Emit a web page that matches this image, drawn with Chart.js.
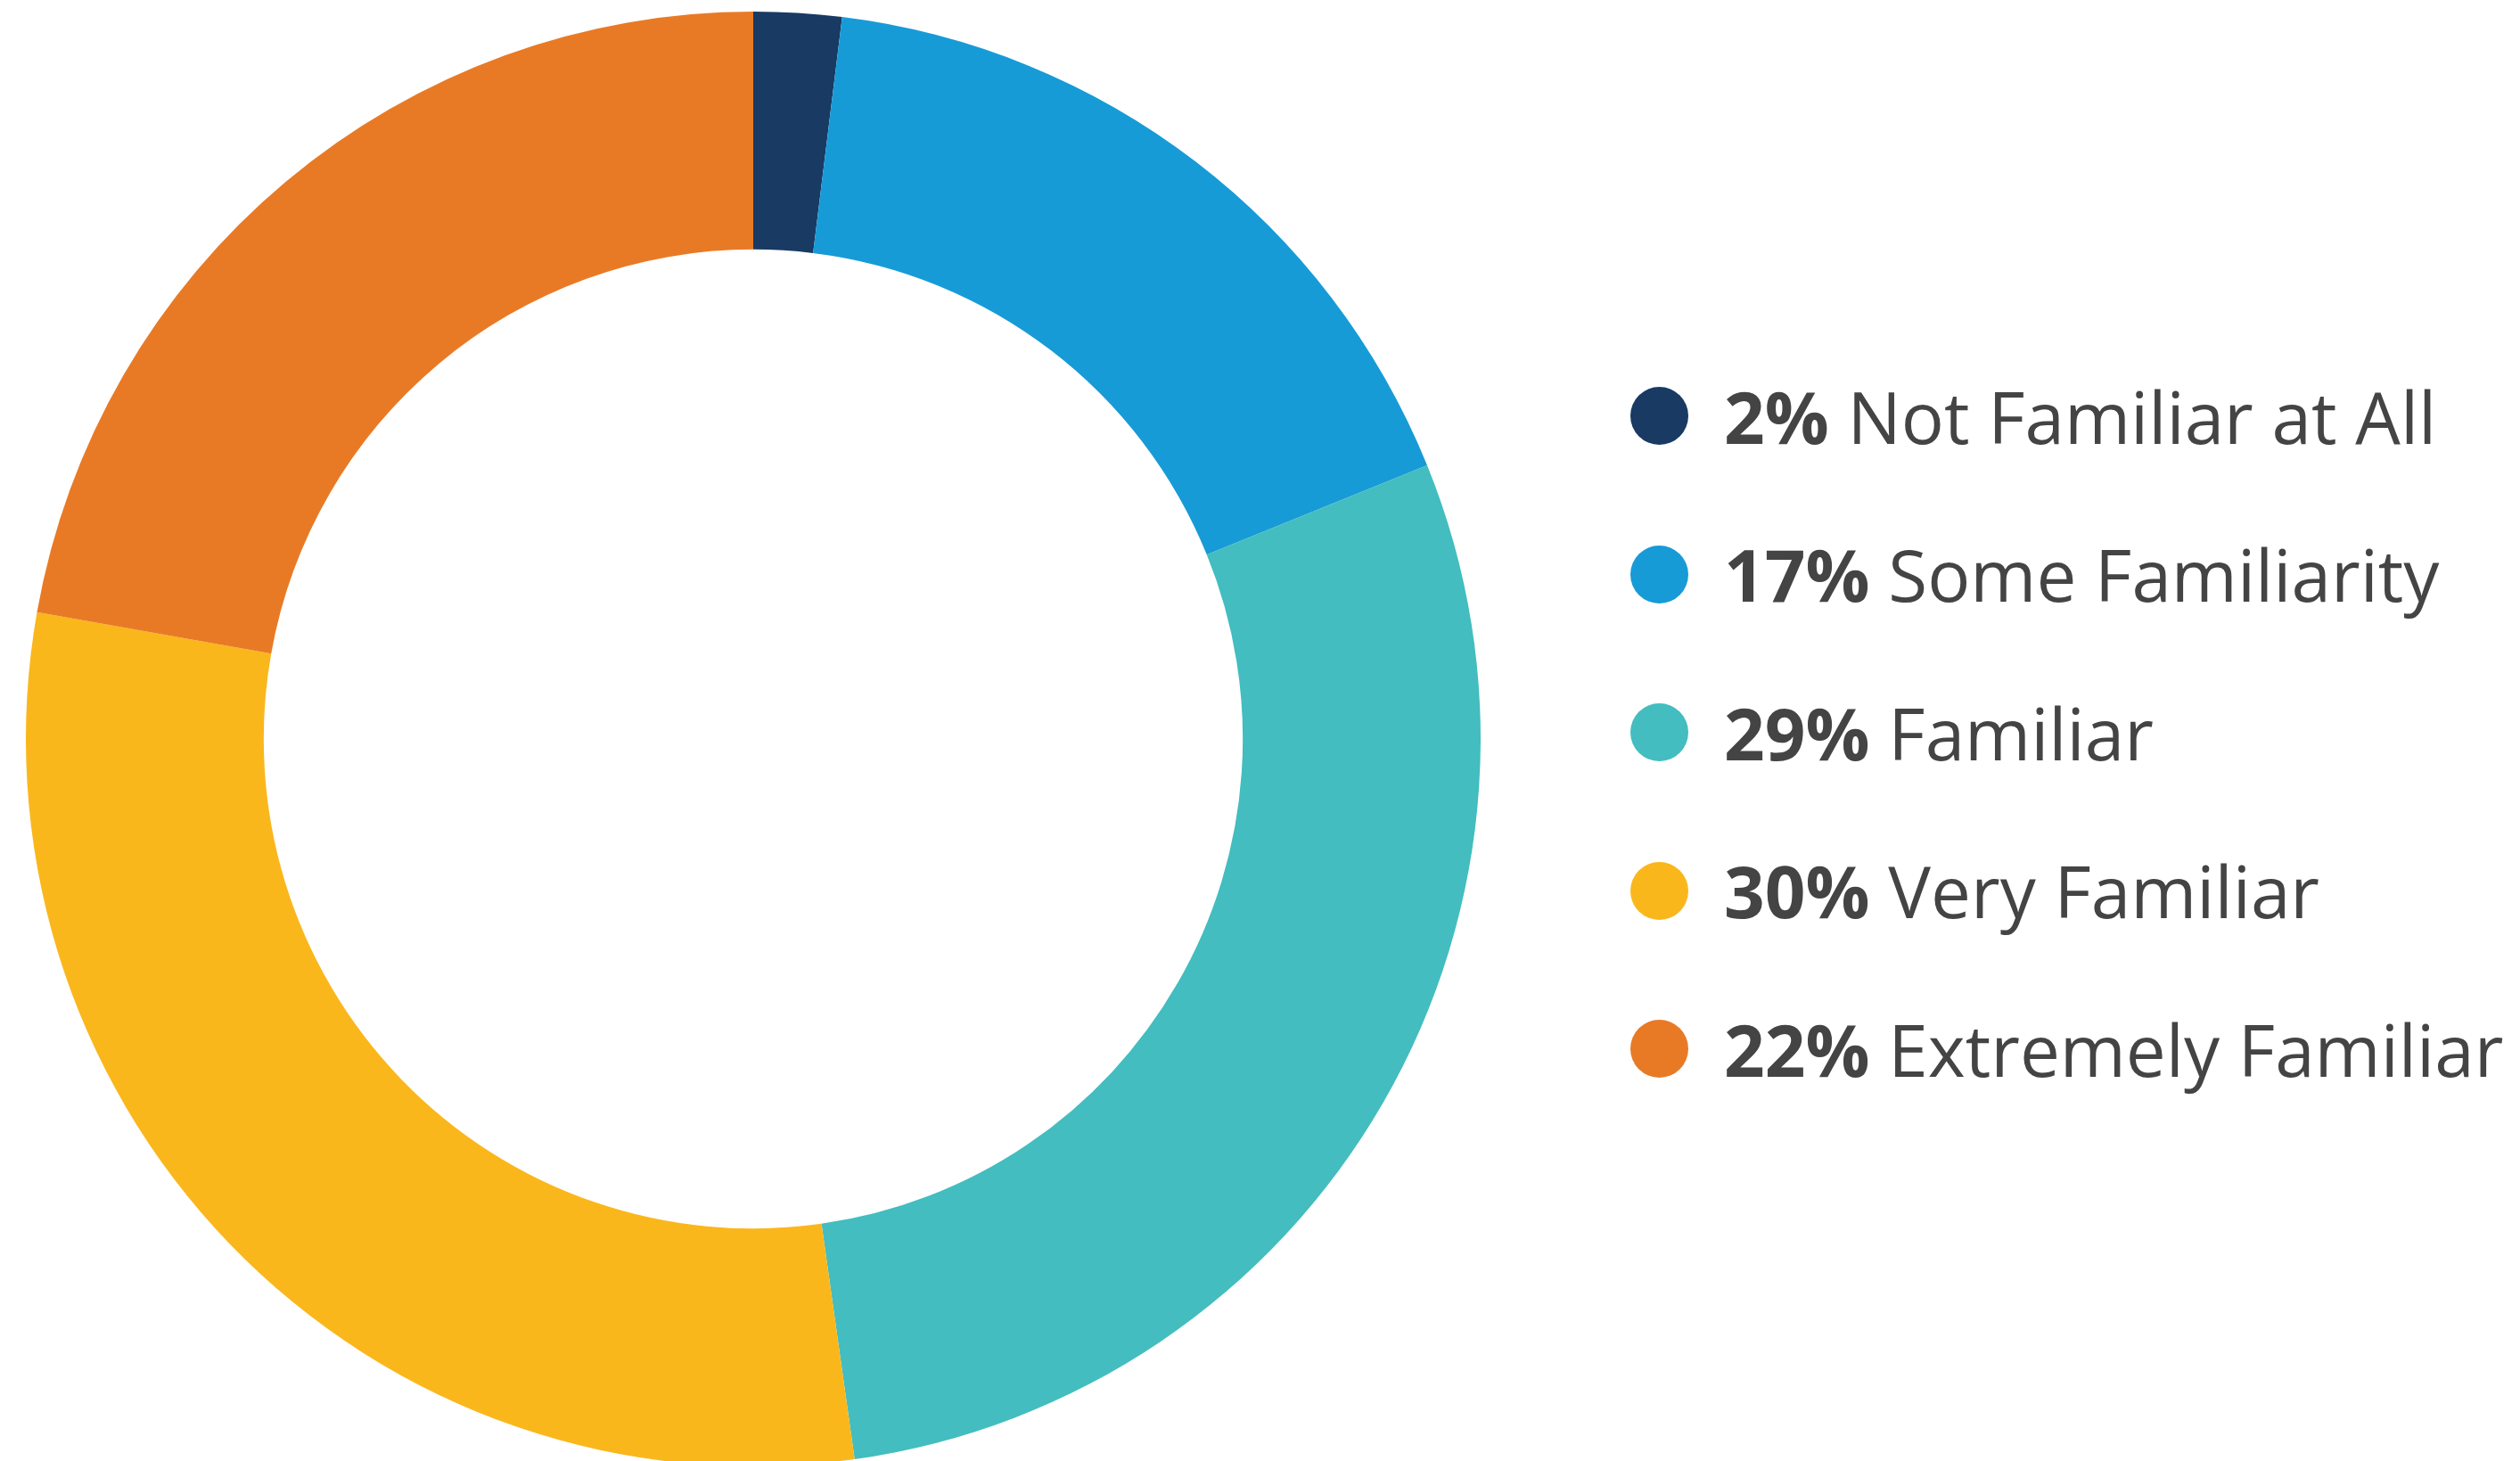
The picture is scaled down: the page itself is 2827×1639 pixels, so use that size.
<!DOCTYPE html>
<html>
<head>
<meta charset="utf-8">
<script src="https://cdn.jsdelivr.net/npm/chart.js@4/dist/chart.umd.min.js"></script>
<style>
    html, body { margin: 0; padding: 0; background: #fff; overflow: hidden; }
    body { width: 2827px; height: 1639px; position: relative; }
    #wrap { position: absolute; left: 29px; top: 13px; width: 1632px; height: 1632px; }
    #legend { position: absolute; left: 1829px; top: 378px; font-family: "Open Sans", sans-serif; color: #444444; }
    .row { display: flex; align-items: center; height: 177.5px; }
    .dot { width: 65px; height: 65px; border-radius: 50%; flex: none; }
    .txt { margin-left: 40px; font-size: 80px; line-height: 1; white-space: nowrap; }
    .txt b { font-weight: 700; }
</style>
</head>
<body>
<div id="wrap"><canvas id="Familiaridad"></canvas></div>
<div id="legend"></div>
<script>
var categorias = ['Not Familiar at All', 'Some Familiarity', 'Familiar', 'Very Familiar', 'Extremely Familiar'];
var valores = [1.95, 16.9, 28.9, 30.0, 22.2];
var colores = ['#183A63', '#179BD7', '#43BDBF', '#FAB71C', '#E97A25'];

// leyenda en html para poder poner el porcentaje en negrita
var legend = document.getElementById('legend');
categorias.forEach(function(cat, i) {
    var row = document.createElement('div');
    row.className = 'row';
    row.innerHTML = '<span class="dot" style="background:' + colores[i] + '"></span>' +
        '<span class="txt"><b>' + Math.round(valores[i]) + '%</b> ' + cat + '</span>';
    legend.appendChild(row);
});

var ctx = document.getElementById('Familiaridad');
var chart = new Chart(ctx, {
    type: 'doughnut',
    data: {
        labels: categorias,
        datasets: [{
            data: valores,
            backgroundColor: colores,
            borderWidth: 0
        }]
    },
    options: {
        responsive: true,
        maintainAspectRatio: false,
        cutout: '67.3%',
        animation: false,
        layout: { padding: 0 },
        plugins: {
            legend: { display: false },
            tooltip: { enabled: false }
        }
    }
});
</script>
</body>
</html>
